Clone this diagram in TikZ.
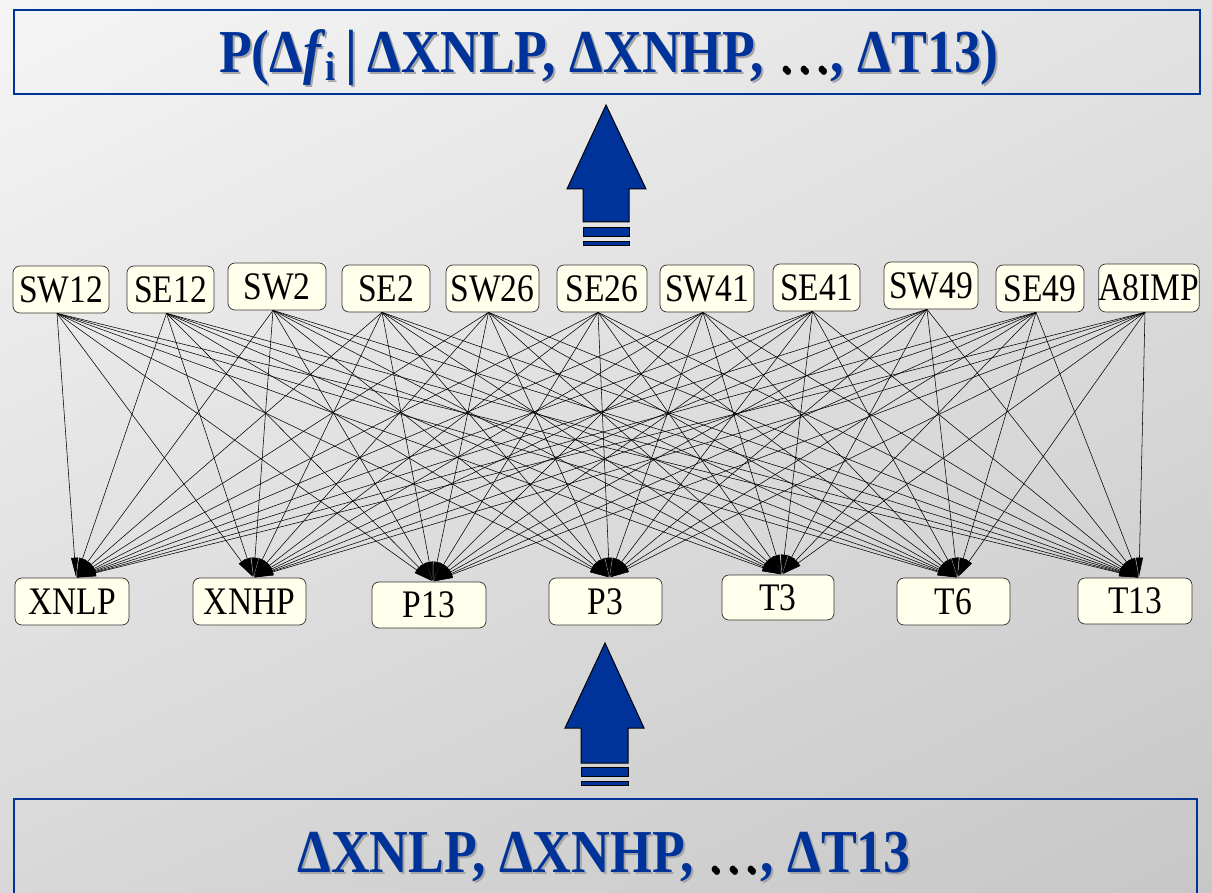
\documentclass[tikz,border=0pt]{standalone}
\usepackage{fontspec}
\setmainfont{Liberation Serif}
\newfontfamily\narrowserif[FakeStretch=0.88]{Liberation Serif}
\newfontfamily\labelserif[FakeStretch=0.86]{Liberation Serif}
\usetikzlibrary{arrows.meta,shadings}
\definecolor{navy}{RGB}{0,51,153}
\definecolor{cream}{RGB}{255,255,236}
\definecolor{bgA}{RGB}{245,245,245}
\definecolor{bgB}{RGB}{226,226,226}
\definecolor{bgC}{RGB}{216,216,216}
\definecolor{bgD}{RGB}{199,199,199}
\tikzset{
  var/.style={draw=black!80, line width=0.7pt, fill=cream, rounded corners=7pt,
    inner sep=0pt, font=\labelserif\fontsize{39}{42}\selectfont},
  link/.style={line width=0.55pt, -{Triangle[length=19pt,width=7pt]}, shorten >=1pt},
  frame/.style={draw=navy, line width=1.8pt},
  bigarrow/.style={fill=navy, draw=black, line width=1pt},
  title/.style={font=\narrowserif\fontsize{61}{66}\selectfont\bfseries, text=navy, inner sep=0pt},
  titleshadow/.style={title, text=black!35}
}
% a node box given by its corners in pixel-like units
\newcommand{\varbox}[6]{%
  \node[var, minimum width={#3-#2}, minimum height={#5-#4}] (#1) at ({(#2+#3)/2},{(#4+#5)/2}) {#6};}
\newcommand{\dotsblack}{{\mdseries\textcolor{black}{…}}}
\newcommand{\titletext}{P(Δ\textit{f}\raisebox{-0.28ex}{\fontsize{41}{44}\selectfont i}\,|\,ΔXNLP, ΔXNHP, \dotsblack, ΔT13)}
\newcommand{\lowtext}{ΔXNLP, ΔXNHP, \dotsblack, ΔT13}
\begin{document}
\begin{tikzpicture}[x=1pt, y=-1pt]
  \useasboundingbox (0,0) rectangle (1212,893);
  \shade[upper left=bgA, upper right=bgB, lower left=bgC, lower right=bgD] (0,0) rectangle (1212,893);

  % top and bottom frames
  \draw[frame] (14,10) rectangle (1200,94);
  \begin{scope}
    \clip (0,0) rectangle (1212,893);
    \draw[frame] (14,799) rectangle (1197,905);
  \end{scope}
  \node[titleshadow, anchor=base] at (611,75) {\titletext};
  \node[title, anchor=base] (top) at (609,73) {\titletext};
  \node[titleshadow, anchor=base] at (606,874) {\lowtext};
  \node[title, anchor=base] (bottom) at (604,872) {\lowtext};

  % block arrows
  \draw[bigarrow] (606,105) -- (646,189) -- (629,189) -- (629,222) -- (583,222) -- (583,189) -- (567,189) -- cycle;
  \draw[bigarrow] (583,228) rectangle (629,237);
  \draw[bigarrow] (583,242) rectangle (629,246);
  \draw[bigarrow] (605,643) -- (644,728) -- (628,728) -- (628,763) -- (581,763) -- (581,728) -- (565,728) -- cycle;
  \draw[bigarrow] (581,767) rectangle (628,776);
  \draw[bigarrow] (581,781) rectangle (628,785);

  % upper variables
  \varbox{sw12}{13}{109}{266}{313}{SW12}
  \varbox{se12}{127}{214}{266}{313}{SE12}
  \varbox{sw2}{228}{326}{263}{310}{SW2}
  \varbox{se2}{342}{430}{265}{312}{SE2}
  \varbox{sw26}{446}{539}{265}{312}{SW26}
  \varbox{se26}{557}{647}{265}{312}{SE26}
  \varbox{sw41}{660}{754}{265}{312}{SW41}
  \varbox{se41}{773}{860}{264}{311}{SE41}
  \varbox{sw49}{884}{978}{262}{309}{SW49}
  \varbox{se49}{996}{1084}{265}{312}{SE49}
  \varbox{a8imp}{1100}{1198}{264}{312}{A8IMP}

  % lower variables
  \varbox{xnlp}{15}{129}{578}{625}{XNLP}
  \varbox{xnhp}{193}{306}{578}{625}{XNHP}
  \varbox{p13}{372}{486}{582}{628}{P13}
  \varbox{p3}{549}{662}{578}{625}{P3}
  \varbox{t3}{722}{834}{575}{620}{T3}
  \varbox{t6}{897}{1010}{578}{625}{T6}
  \varbox{t13}{1078}{1192}{578}{624}{T13}

  % every upper variable points to every lower variable
  \foreach \s in {sw12,se12,sw2,se2,sw26,se26,sw41,se41,sw49,se49,a8imp}
    \foreach \t in {xnlp,xnhp,p13,p3,t3,t6,t13}
      \draw[link] ([xshift=-4pt]\s.south) -- ([xshift=4pt]\t.north);
\end{tikzpicture}
\end{document}
